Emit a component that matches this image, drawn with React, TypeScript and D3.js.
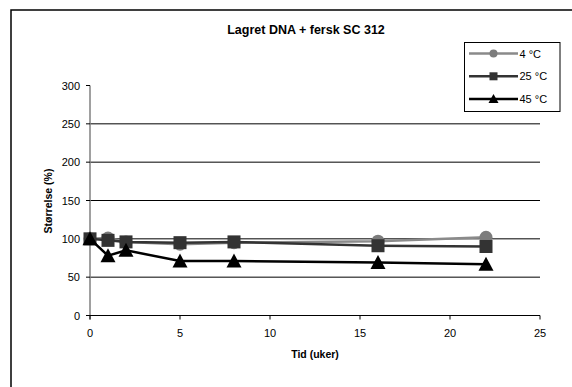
import React from "react";
import * as d3 from "d3";

const weeks = [0, 1, 2, 5, 8, 16, 22];
const seriesNames = ["4 °C", "25 °C", "45 °C"];
const values4C = [100, 101, 96, 93, 95, 97, 102];
const values25C = [100, 98, 96, 95, 96, 91, 90];
const values45C = [100, 78, 85, 71, 71, 69, 67];
const yTicks = [0, 50, 100, 150, 200, 250, 300];
const xTicks = [0, 5, 10, 15, 20, 25];
const gridValues = [50, 100, 150, 200, 250];

const FONT = "'Liberation Sans', Arial, sans-serif";

type Shape = "circle" | "square" | "triangle";

const styles: { color: string; fill: string; shape: Shape }[] = [
  { color: "#8a8a8a", fill: "#7c7c7c", shape: "circle" },
  { color: "#333333", fill: "#333333", shape: "square" },
  { color: "#000000", fill: "#000000", shape: "triangle" },
];

function Marker({ shape, x, y, s, fill }: { shape: Shape; x: number; y: number; s: number; fill: string }) {
  if (shape === "circle") return <circle cx={x} cy={y} r={s / 2} fill={fill} />;
  if (shape === "square")
    return <rect x={x - s / 2} y={y - s / 2} width={s} height={s} fill={fill} />;
  const h = s;
  return (
    <path
      d={`M${x},${y - h / 2 - 1} L${x + s / 2 + 1},${y + h / 2} L${x - s / 2 - 1},${y + h / 2} Z`}
      fill={fill}
    />
  );
}

export default function App() {
  const width = 572;
  const height = 387;
  const x = d3.scaleLinear().domain([0, 25]).range([90, 540]);
  const y = d3.scaleLinear().domain([0, 300]).range([315.5, 85.5]);
  const data = [values4C, values25C, values45C];
  const line = d3
    .line<number>()
    .x((_, i) => x(weeks[i]))
    .y((v) => y(v));

  return (
    <svg
      width={width}
      height={height}
      style={{ position: "absolute", left: 0, top: 0, background: "#fff" }}
      fontFamily={FONT}
    >
      <rect x={0} y={0} width={width} height={height} fill="#fff" />
      {/* chart frame */}
      <path d={`M11,${height + 2} V10 H${width + 2}`} fill="none" stroke="#000" strokeWidth={1.5} />

      <text x={306} y={34} textAnchor="middle" fontSize={12.5} fontWeight="bold">
        Lagret DNA + fersk SC 312
      </text>

      {/* horizontal gridlines */}
      {gridValues.map((g) => (
        <line key={g} x1={x(0)} x2={x(25)} y1={y(g)} y2={y(g)} stroke="#000" strokeWidth={1} />
      ))}

      {/* y axis */}
      <line x1={x(0)} x2={x(0)} y1={y(300)} y2={y(0) + 4} stroke="#808080" strokeWidth={1.5} />
      {yTicks.map((t) => (
        <g key={t}>
          <line x1={x(0) - 4} x2={x(0)} y1={y(t)} y2={y(t)} stroke="#000" strokeWidth={1} />
          <text x={80} y={y(t) + 4} textAnchor="end" fontSize={11}>
            {t}
          </text>
        </g>
      ))}

      {/* x axis */}
      <line x1={x(0)} x2={x(25)} y1={y(0)} y2={y(0)} stroke="#000" strokeWidth={1.2} />
      {xTicks.map((t) => (
        <g key={t}>
          <line x1={x(t)} x2={x(t)} y1={y(0)} y2={y(0) + 4} stroke="#000" strokeWidth={1} />
          <text x={x(t)} y={337} textAnchor="middle" fontSize={11}>
            {t}
          </text>
        </g>
      ))}

      <text x={315} y={358} textAnchor="middle" fontSize={10.5} fontWeight="bold">
        Tid (uker)
      </text>
      <text
        transform="translate(52,201) rotate(-90)"
        textAnchor="middle"
        fontSize={10.5}
        fontWeight="bold"
      >
        Størrelse (%)
      </text>

      {/* series */}
      {data.map((vals, si) => (
        <g key={si}>
          <path d={line(vals) ?? ""} fill="none" stroke={styles[si].color} strokeWidth={2.5} />
          {vals.map((v, i) => (
            <Marker key={i} shape={styles[si].shape} x={x(weeks[i])} y={y(v)} s={13} fill={styles[si].fill} />
          ))}
        </g>
      ))}

      {/* legend */}
      <rect x={464.5} y={42.5} width={95.5} height={69} fill="#fff" stroke="#000" strokeWidth={1} />
      {seriesNames.map((name, i) => {
        const ly = 53.5 + i * 22.8;
        return (
          <g key={name}>
            <line x1={469} x2={518} y1={ly} y2={ly} stroke={styles[i].color} strokeWidth={2.5} />
            <Marker shape={styles[i].shape} x={493.5} y={ly} s={8} fill={styles[i].fill} />
            <text x={519.5} y={ly + 4} fontSize={11}>
              {name}
            </text>
          </g>
        );
      })}
    </svg>
  );
}
